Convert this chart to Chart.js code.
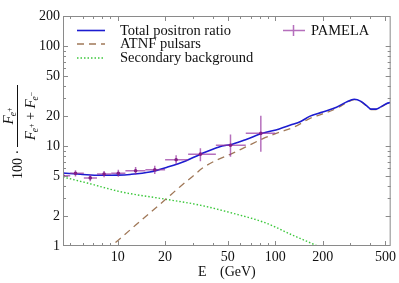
<!DOCTYPE html>
<html><head><meta charset="utf-8">
<script src="https://cdn.jsdelivr.net/npm/chart.js@4"></script>
<style>html,body{margin:0;padding:0;background:#fff}</style>
</head><body>
<canvas id="c" width="399" height="283"></canvas>
<script>
// ---- data ----
const xTickLabels = [10, 20, 50, 100, 200, 500];
const yTickLabels = [1, 2, 5, 10, 20, 50, 100, 200];

const totalE = [4.5, 6, 7.7, 10, 12, 16, 21, 27, 33, 44, 54, 66, 83, 106, 125, 145, 165, 200, 245, 282, 317, 350, 384, 405, 436, 470, 510, 535];
const totalV = [5.37, 5.2, 5.1, 5.12, 5.2, 5.5, 6.2, 7.1, 8.2, 9.8, 10.5, 11.7, 13.4, 14.8, 16.2, 17.6, 19.8, 21.9, 24.5, 27.5, 29.4, 28, 25, 23.4, 23.4, 24.8, 26.6, 27.2];

const pulsarE = [8.5, 10, 15, 20, 25, 30, 35, 43, 53, 65, 83, 106, 132, 165, 200, 245, 282, 317, 350, 384, 405, 436, 470, 510, 535];
const pulsarV = [0.9, 1.13, 1.96, 2.9, 3.94, 5.0, 6.1, 7.3, 8.4, 9.8, 11.8, 13.7, 15.5, 18.8, 21.0, 23.8, 27.0, 29.2, 27.8, 24.8, 23.2, 23.2, 24.6, 26.5, 27.1];

const secE = [4.5, 6.4, 10.6, 19.8, 33, 53, 87, 128, 190, 200];
const secV = [4.9, 4.27, 3.47, 2.95, 2.57, 2.14, 1.7, 1.29, 0.98, 0.94];

const pamE   = [4.5, 5.4, 6.7, 8.2, 10.1, 13.0, 17.2, 23.5, 33.5, 52, 81];
const pamV   = [5.05, 5.33, 4.8, 5.25, 5.35, 5.66, 5.8, 7.3, 8.3, 10.2, 13.4];
const pamElo = [4.1, 5.0, 6.1, 7.4, 9.1, 11.2, 15, 20, 28, 42, 65];
const pamEhi = [5.0, 6.1, 7.4, 9.1, 11.2, 15, 20, 28, 42, 65, 100];
const pamVlo = [0.2, 0.2, 0.2, 0.2, 0.25, 0.3, 0.35, 0.5, 1.0, 2.1, 4.3];
const pamVhi = [0.2, 0.2, 0.2, 0.2, 0.25, 0.3, 0.35, 0.5, 0.9, 2.4, 6.0];

const legendLabels = ['Total positron ratio', 'ATNF pulsars', 'Secondary background', 'PAMELA'];
const xTitle = ['E', '(GeV)'];

// ---- styling ----
const SERIF = '"Liberation Serif", "Times New Roman", serif';
const C_BLUE = '#1c1cd0', C_BROWN = '#a07858', C_GREEN = '#3cc83c';
const C_PAM = 'rgba(150,50,160,0.7)', C_PAMDOT = '#821e86';
const FRAME = '#8a8a8a';

function logTicks(min, max) {
  const out = [];
  for (let e = Math.floor(Math.log10(min)); e <= Math.ceil(Math.log10(max)); e++) {
    for (let m = 1; m <= 9; m++) {
      const v = m * Math.pow(10, e);
      if (v >= min - 1e-9 && v <= max + 1e-9) out.push(+v.toPrecision(6));
    }
  }
  return out;
}
const XMIN = 4.5, XMAX = 540, YMIN = 1, YMAX = 200;

const pts = (xs, ys) => xs.map((x, i) => ({x: x, y: ys[i]}));

const decor = {
  id: 'decor',
  beforeDatasetDraw(chart, args) {
    if (args.index !== 0) return;
    const {ctx, chartArea: a, scales: {x, y}} = chart;
    ctx.save();
    ctx.beginPath(); ctx.rect(a.left, a.top, a.right - a.left, a.bottom - a.top); ctx.clip();
    ctx.strokeStyle = C_PAM; ctx.lineWidth = 1.5;
    for (let i = 0; i < pamE.length; i++) {
      const px = x.getPixelForValue(pamE[i]), py = y.getPixelForValue(pamV[i]);
      ctx.beginPath();
      ctx.moveTo(x.getPixelForValue(pamElo[i]), py); ctx.lineTo(x.getPixelForValue(pamEhi[i]), py);
      ctx.moveTo(px, y.getPixelForValue(pamV[i] - pamVlo[i]) + 1.5); ctx.lineTo(px, y.getPixelForValue(pamV[i] + pamVhi[i]) - 1.5);
      ctx.stroke();
    }
    ctx.restore();
  },
  afterDraw(chart) {
    const {ctx, chartArea: a, scales: {x, y}} = chart;
    ctx.save();
    // frame
    ctx.strokeStyle = FRAME; ctx.lineWidth = 1;
    ctx.strokeRect(a.left + 0.5, a.top + 0.5, a.right - a.left - 1, a.bottom - a.top - 1);
    // inward ticks on all four sides
    ctx.beginPath();
    for (const t of x.ticks) {
      if (t.value <= XMIN || t.value >= XMAX) continue;
      const p = Math.round(x.getPixelForValue(t.value)) + 0.5;
      const L = xTickLabels.includes(t.value) ? 5 : 3;
      ctx.moveTo(p, a.bottom); ctx.lineTo(p, a.bottom - L);
      ctx.moveTo(p, a.top); ctx.lineTo(p, a.top + L);
    }
    for (const t of y.ticks) {
      if (t.value <= YMIN || t.value >= YMAX) continue;
      const p = Math.round(y.getPixelForValue(t.value)) + 0.5;
      const L = yTickLabels.includes(t.value) ? 5 : 3;
      ctx.moveTo(a.left, p); ctx.lineTo(a.left + L, p);
      ctx.moveTo(a.right, p); ctx.lineTo(a.right - L, p);
    }
    ctx.stroke();

    // legend
    ctx.fillStyle = '#111'; ctx.font = '14.5px ' + SERIF; ctx.textBaseline = 'alphabetic';
    const rows = [[30.5, 34.5, C_BLUE, [], 1.6], [44, 48, C_BROWN, [7, 5], 1.3], [58, 62.3, C_GREEN, [1.5, 2], 1.4]];
    rows.forEach((r, i) => {
      ctx.strokeStyle = r[2]; ctx.lineWidth = r[4]; ctx.setLineDash(r[3]);
      ctx.beginPath(); ctx.moveTo(77, r[0]); ctx.lineTo(105, r[0]); ctx.stroke();
      ctx.setLineDash([]);
      ctx.fillText(legendLabels[i], 120, r[1]);
    });
    ctx.strokeStyle = C_PAM; ctx.lineWidth = 1.5;
    ctx.beginPath(); ctx.moveTo(283, 30.5); ctx.lineTo(305, 30.5); ctx.moveTo(293.5, 25); ctx.lineTo(293.5, 36); ctx.stroke();
    ctx.fillText(legendLabels[3], 311, 34.5);

    // x title
    ctx.font = '14px ' + SERIF;
    ctx.fillText(xTitle[0], 198, 276);
    ctx.fillText(xTitle[1], 220, 276);

    // y title (rotated)
    ctx.translate(0, 283); ctx.rotate(-Math.PI / 2);
    // u = 283 - screenY, v = screenX
    ctx.font = '14px ' + SERIF;
    ctx.fillText('100 \u00b7', 104, 22);
    function drawF(u, v, sup, draw) {
      let w = 0;
      ctx.font = 'italic 15px ' + SERIF; if (draw) ctx.fillText('F', u, v); w += ctx.measureText('F').width - 1;
      ctx.font = 'italic 9.5px ' + SERIF; if (draw) ctx.fillText('e', u + w, v + 3); const we = ctx.measureText('e').width;
      ctx.font = '8px ' + SERIF; if (draw) ctx.fillText(sup, u + w + we, v - 1); w += we + ctx.measureText(sup).width;
      return w;
    }
    const nw = drawF(0, 0, '+', false);
    ctx.font = '14px ' + SERIF; const pw = ctx.measureText(' + ').width;
    const dw = nw + pw + drawF(0, 0, '\u2212', false);
    const cu = 167;
    drawF(cu - nw / 2, 12.5, '+', true);
    ctx.strokeStyle = '#111'; ctx.lineWidth = 1;
    ctx.beginPath(); ctx.moveTo(136, 17.5); ctx.lineTo(198, 17.5); ctx.stroke();
    let u0 = cu - dw / 2;
    u0 += drawF(u0, 35, '+', true);
    ctx.font = '14px ' + SERIF; ctx.fillText(' + ', u0, 35); u0 += pw;
    drawF(u0, 35, '\u2212', true);
    ctx.restore();
  }
};

Chart.defaults.font.family = SERIF;
new Chart(document.getElementById('c'), {
  type: 'line',
  data: {
    datasets: [
      {label: legendLabels[3], data: pts(pamE, pamV), showLine: false, pointRadius: 1.8, pointBackgroundColor: C_PAMDOT, pointBorderWidth: 0},
      {label: legendLabels[0], data: pts(totalE, totalV), borderColor: C_BLUE, borderWidth: 1.6, pointRadius: 0, cubicInterpolationMode: 'monotone'},
      {label: legendLabels[1], data: pts(pulsarE, pulsarV), borderColor: C_BROWN, borderWidth: 1.3, borderDash: [7, 5], pointRadius: 0, cubicInterpolationMode: 'monotone'},
      {label: legendLabels[2], data: pts(secE, secV), borderColor: C_GREEN, borderWidth: 1.4, borderDash: [1.5, 2], pointRadius: 0, cubicInterpolationMode: 'monotone'}
    ]
  },
  options: {
    responsive: false, animation: false, events: [],
    layout: {padding: {top: 16, right: 6, left: 0, bottom: 0}},
    plugins: {legend: {display: false}, tooltip: {enabled: false}},
    scales: {
      x: {
        type: 'logarithmic', min: XMIN, max: XMAX,
        afterBuildTicks(s) { s.ticks = logTicks(XMIN, XMAX).map(v => ({value: v})); },
        afterFit(s) { s.height = 37; },
        grid: {display: false, drawTicks: false}, border: {display: false},
        ticks: {autoSkip: false, maxRotation: 0, padding: 3, color: '#111', font: {family: SERIF, size: 14},
          callback: v => xTickLabels.includes(v) ? String(v) : ''}
      },
      y: {
        type: 'logarithmic', min: YMIN, max: YMAX,
        afterBuildTicks(s) { s.ticks = logTicks(YMIN, YMAX).map(v => ({value: v})); },
        afterFit(s) { s.width = 63; },
        grid: {display: false, drawTicks: false}, border: {display: false},
        ticks: {autoSkip: false, padding: 3, color: '#111', font: {family: SERIF, size: 14},
          callback: v => yTickLabels.includes(v) ? String(v) : ''}
      }
    }
  },
  plugins: [decor]
});
</script>
</body></html>
